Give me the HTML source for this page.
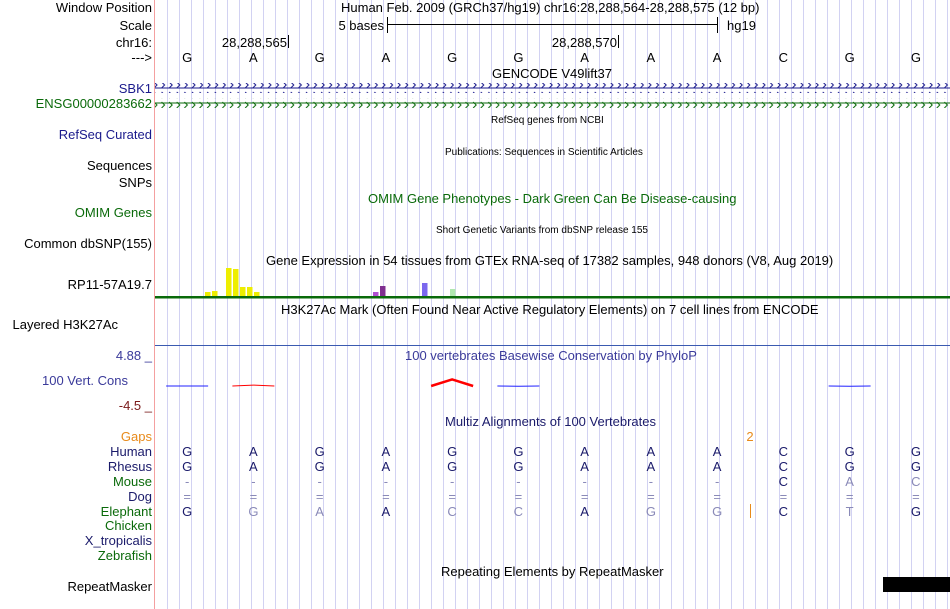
<!DOCTYPE html>
<html><head><meta charset="utf-8"><style>
body{margin:0;background:#fff;}
svg{display:block;font-family:"Liberation Sans",sans-serif;}
</style></head><body>
<svg id="ch" width="950" height="609" viewBox="0 0 950 609">
<defs>
<pattern id="chevB" x="0" y="0" width="7.6" height="10" patternUnits="userSpaceOnUse"><path d="M2,2 L5,5 L2,8" stroke="#1a1a8c" fill="none" stroke-width="1"/></pattern>
<pattern id="chevG" x="0" y="0" width="7.6" height="10" patternUnits="userSpaceOnUse"><path d="M2,2 L5,5 L2,8" stroke="#0a6a0a" fill="none" stroke-width="1"/></pattern>
</defs>
<g id="grid"></g>
<line x1="154.5" y1="0" x2="154.5" y2="609" stroke="#f4a0a0"/>
<g font-size="13" text-anchor="end">
<text x="152" y="12" fill="#000">Window Position</text>
<text x="152" y="30" fill="#000">Scale</text>
<text x="152" y="47" fill="#000">chr16:</text>
<text x="152" y="62" fill="#000">---&gt;</text>
<text x="152" y="93" fill="#1a1a8c">SBK1</text>
<text x="152" y="108" fill="#0a6a0a">ENSG00000283662</text>
<text x="152" y="139" fill="#1a1a8c">RefSeq Curated</text>
<text x="152" y="170" fill="#000">Sequences</text>
<text x="152" y="187" fill="#000">SNPs</text>
<text x="152" y="217" fill="#0a6a0a">OMIM Genes</text>
<text x="152" y="248" fill="#000">Common dbSNP(155)</text>
<text x="152" y="289" fill="#000">RP11-57A19.7</text>
<text x="118" y="329" fill="#000">Layered H3K27Ac</text>
<text x="152" y="360" fill="#3a3a9a">4.88 _</text>
<text x="128" y="385" fill="#3a3a9a">100 Vert. Cons</text>
<text x="152" y="410" fill="#7a1a1a">-4.5 _</text>
<text x="152" y="441" fill="#e88a1a">Gaps</text>
<text x="152" y="456" fill="#1a1a6a">Human</text>
<text x="152" y="471" fill="#1a1a6a">Rhesus</text>
<text x="152" y="486" fill="#0a6a0a">Mouse</text>
<text x="152" y="501" fill="#1a1a6a">Dog</text>
<text x="152" y="516" fill="#0a6a0a">Elephant</text>
<text x="152" y="530" fill="#0a6a0a">Chicken</text>
<text x="152" y="545" fill="#1a1a6a">X_tropicalis</text>
<text x="152" y="560" fill="#0a6a0a">Zebrafish</text>
<text x="152" y="591" fill="#000">RepeatMasker</text>
</g>
<g font-size="13" fill="#000">
<text x="341" y="12">Human Feb. 2009 (GRCh37/hg19)   chr16:28,288,564-28,288,575 (12 bp)</text>
<text x="384" y="30" text-anchor="end">5 bases</text>
<text x="727" y="30">hg19</text>
<text x="287" y="47" text-anchor="end">28,288,565</text>
<text x="617" y="47" text-anchor="end">28,288,570</text>
<text x="492" y="78">GENCODE V49lift37</text>
<text x="491" y="123" font-size="10">RefSeq genes from NCBI</text>
<text x="445" y="155" font-size="10">Publications: Sequences in Scientific Articles</text>
<text x="368" y="203" fill="#0a6a0a">OMIM Gene Phenotypes - Dark Green Can Be Disease-causing</text>
<text x="436" y="233" font-size="10">Short Genetic Variants from dbSNP release 155</text>
<text x="266" y="265">Gene Expression in 54 tissues from GTEx RNA-seq of 17382 samples, 948 donors (V8, Aug 2019)</text>
<text x="281" y="314">H3K27Ac Mark (Often Found Near Active Regulatory Elements) on 7 cell lines from ENCODE</text>
<text x="405" y="360" fill="#3a3a9a">100 vertebrates Basewise Conservation by PhyloP</text>
<text x="445" y="426" fill="#1a1a6a">Multiz Alignments of 100 Vertebrates</text>
<text x="441" y="576">Repeating Elements by RepeatMasker</text>
<text x="750" y="441" fill="#e88a1a" text-anchor="middle">2</text>
</g>
<g stroke="#000">
<line x1="387" y1="24.5" x2="717" y2="24.5"/>
<line x1="387.5" y1="17" x2="387.5" y2="33"/>
<line x1="717.5" y1="17" x2="717.5" y2="33"/>
<line x1="288.5" y1="35" x2="288.5" y2="48"/>
<line x1="618.5" y1="35" x2="618.5" y2="48"/>
</g>
<g><line x1="155" y1="88" x2="950" y2="88" stroke="#1a1a8c"/><rect x="155" y="83" width="795" height="10" fill="url(#chevB)"/></g>
<g><line x1="155" y1="103" x2="950" y2="103" stroke="#0a6a0a"/><rect x="155" y="98" width="795" height="10" fill="url(#chevG)"/></g>
<rect x="155" y="296" width="795" height="2.5" fill="#0a6a0a"/>
<line x1="155" y1="345.5" x2="950" y2="345.5" stroke="#3a5ab0"/>
<g id="bases" font-size="13" text-anchor="middle"></g>
<g id="gtex"></g>
<g id="cons"></g>
<g id="align" font-size="13" text-anchor="middle"></g>
<line x1="750.5" y1="504" x2="750.5" y2="518" stroke="#e88a1a"/>
<rect x="883" y="577" width="67" height="15" fill="#000"/>
</svg>
<script>
const bases = ["G","A","G","A","G","G","A","A","A","C","G","G"];
const mouse = ["-","-","-","-","-","-","-","-","-","C","A","C"];
const mouseLight = [0,0,0,0,0,0,0,0,0,0,1,1];
const elephant = ["G","G","A","A","C","C","A","G","G","C","T","G"];
const elephantLight = [0,1,1,0,1,1,0,1,1,0,1,0];
const gtexTissue = [0,1,3,4,5,6,7,24,25,31,35];
const gtexValue = [4,5,28,27,9,9,4,4,10,13,7];
const gtexColor = ["#eeee00","#eeee00","#eeee00","#eeee00","#eeee00","#eeee00","#eeee00","#b050d0","#803090","#7b68ee","#b0e8b0"];
const consBase = [0,1,4,5,10];
const consVal = [0,0.3,2.2,-0.1,-0.1];
const NS="http://www.w3.org/2000/svg";
function mk(t,a,p){const e=document.createElementNS(NS,t);for(const k in a)e.setAttribute(k,a[k]);p.appendChild(e);return e;}
const x0=154, bw=795/12;
const bx=i=>x0+bw*(i+0.5);
const gx=k=>205+7*k;
const gy=v=>296-v;
const cy=v=>386-v*3;
const grid=document.getElementById('grid');
for(let x=167;x<950;x+=12){const l=mk('line',{x1:x+0.5,y1:0,x2:x+0.5,y2:609,stroke:'#d2d2f2'},grid);

}
const bg=document.getElementById('bases');
bases.forEach((b,i)=>{const t=mk('text',{x:bx(i),y:62,fill:'#000'},bg);t.textContent=b;

});
const gg=document.getElementById('gtex');
gtexTissue.forEach((k,i)=>{const r=mk('rect',{x:gx(k),y:gy(gtexValue[i]),width:5.5,height:gtexValue[i],fill:gtexColor[i]},gg);

});
const cg=document.getElementById('cons');
consBase.forEach((b,i)=>{const v=consVal[i];const xa=bx(b)-21,xb=bx(b)+21,xm=bx(b);
const col=v>0.05?'#ff0000':'#2020ff';
const p=mk('path',{d:`M${xa},386 L${xm},${cy(v)} L${xb},386`,stroke:col,fill:'none','stroke-width':v>1?2.5:1},cg);

});
const ag=document.getElementById('align');
const dark='#1a1a6a', light='#8a8ab8';
function row(arr,lt,y,name){arr.forEach((b,i)=>{const t=mk('text',{x:bx(i),y:y,fill:lt[i]?light:dark},ag);t.textContent=b;

});}
const zero=bases.map(()=>0);
row(bases,zero,456,'human');
row(bases,zero,471,'rhesus');
row(mouse,mouse.map((m,i)=>m==='-'?1:mouseLight[i]),486,'mouse');
row(bases.map(()=>"="),bases.map(()=>1),501,'dog');
row(elephant,elephantLight,516,'elephant');
</script>
</body></html>
